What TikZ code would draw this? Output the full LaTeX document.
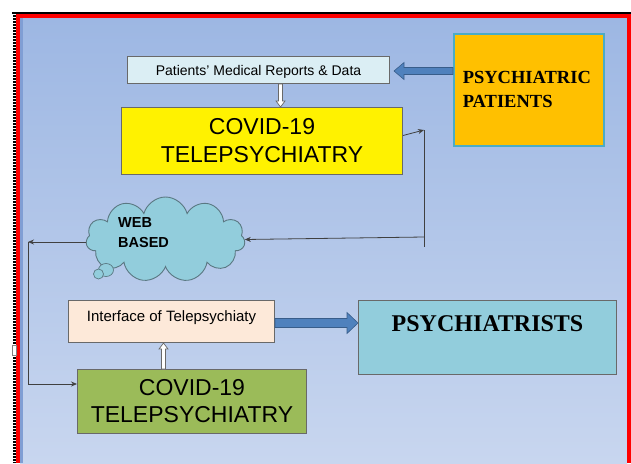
\documentclass[tikz,border=0pt]{standalone}
\usepackage{fontspec}
\setmainfont{Liberation Sans}
\newfontfamily\serifb{Liberation Serif}
\usetikzlibrary{shapes.symbols,arrows.meta,calc}

\definecolor{bgtop}{RGB}{157,183,227}
\definecolor{bgbot}{RGB}{200,214,239}
\definecolor{bgstrip}{RGB}{128,158,212}
\definecolor{boxline}{RGB}{105,105,105}
\definecolor{repfill}{RGB}{219,238,244}
\definecolor{orangefill}{RGB}{255,192,0}
\definecolor{orangeline}{RGB}{75,172,198}
\definecolor{cloudfill}{RGB}{146,205,220}
\definecolor{cloudline}{RGB}{90,120,130}
\definecolor{peach}{RGB}{253,233,217}
\definecolor{greenfill}{RGB}{155,187,89}
\definecolor{arrowblue}{RGB}{79,129,189}
\definecolor{arrowedge}{RGB}{56,93,138}
\definecolor{conn}{RGB}{64,64,64}
\definecolor{framered}{RGB}{255,0,0}

\begin{document}
\begin{tikzpicture}[x=1pt,y=-1pt,
  boxnode/.style={draw=boxline, line width=1pt, rectangle, anchor=north west, inner sep=0pt},
  link/.style={draw=conn, line width=0.8pt, -{Stealth[length=6pt,width=5pt]}},
  plain/.style={draw=conn, line width=0.8pt},
  bluearrow/.style={fill=arrowblue, draw=arrowedge, line width=0.6pt},
  whitearrow/.style={fill=white, draw=boxline, line width=0.7pt},
]
\useasboundingbox (0,0) rectangle (631,463);
\fill[white] (0,0) rectangle (631,463);
% background and frame
\shade[top color=bgtop, bottom color=bgbot] (20,17) rectangle (627,463);
\fill[bgstrip] (20,17.5) rectangle (23,463);
\fill[framered] (16,13.5) rectangle (631,17.5);
\fill[framered] (16,13.5) rectangle (20,463);
\fill[framered] (627,13.5) rectangle (631,463);
\fill[black] (12,12) rectangle (631,13.8);
\draw[black, line width=3pt, dash pattern=on 2pt off 1pt] (14,12) -- (14,463);
\draw[gray, fill=white, line width=0.5pt] (12.5,345) rectangle (16.5,355);

% nodes
\node[boxnode, fill=repfill, minimum width=262pt, minimum height=27pt,
      font=\fontsize{14}{16}\selectfont, text depth=0pt] (reports) at (127,56)
      {Patients’ Medical Reports \& Data};
\node[boxnode, fill=yellow, minimum width=281pt, minimum height=67pt, align=center,
      font=\fontsize{23}{28}\selectfont] (covidtop) at (121,107) {COVID-19\\TELEPSYCHIATRY};
\node[boxnode, draw=orangeline, line width=1.5pt, fill=orangefill, minimum width=150pt,
      minimum height=112pt, inner xsep=9pt, text width=132pt, align=left,
      font=\serifb\bfseries\fontsize{18.5}{24}\selectfont] (patients) at (453,33)
      {PSYCHIATRIC\\PATIENTS};
\node[cloud, cloud puffs=11, aspect=1.87, draw=cloudline, line width=0.9pt, fill=cloudfill,
      minimum width=159pt, minimum height=85pt, inner sep=0pt] (web) at (165.5,239.5) {};
\draw[draw=cloudline, fill=cloudfill, line width=0.7pt] (106,270) ellipse (7.5 and 6.5);
\draw[draw=cloudline, fill=cloudfill, line width=0.7pt] (98.5,274) circle (5);
\node[font=\bfseries\fontsize{14.5}{20}\selectfont, align=left, anchor=north west,
      inner sep=0pt] (webtxt) at (118,217.6) {WEB\\BASED};
\node[boxnode, fill=peach, minimum width=206pt, minimum height=42pt,
      font=\fontsize{15}{18}\selectfont, text height=11pt, text depth=11pt] (iface) at (68,300)
      {Interface of Telepsychiaty};
\node[boxnode, fill=cloudfill, minimum width=258pt, minimum height=74pt,
      font=\serifb\bfseries\fontsize{24}{28}\selectfont, text height=16.5pt, text depth=28.5pt]
      (doctors) at (358,300) {PSYCHIATRISTS};
\node[boxnode, fill=greenfill, minimum width=229pt, minimum height=64pt, align=center,
      font=\fontsize{23}{27}\selectfont] (covidbot) at (77,369) {COVID-19\\TELEPSYCHIATRY};

% block arrows
\draw[bluearrow] let \p1=(reports.east), \p2=(patients.west) in
  (\x2,\y1+2.5pt) -- (\x1+14pt,\y1+2.5pt) -- (\x1+14pt,\y1+7.5pt) -- (\x1+4pt,\y1-1pt)
  -- (\x1+14pt,\y1-9.5pt) -- (\x1+14pt,\y1-4.5pt) -- (\x2,\y1-4.5pt) -- cycle;
\draw[bluearrow] let \p1=(iface.east), \p2=(doctors.west) in
  (\x1,\y1+3pt) -- (\x2-11pt,\y1+3pt) -- (\x2-11pt,\y1+9pt) -- (\x2,\y1-1.5pt)
  -- (\x2-11pt,\y1-12pt) -- (\x2-11pt,\y1-6pt) -- (\x1,\y1-6pt) -- cycle;
\draw[whitearrow] let \p1=($(reports.south)+(22,0)$), \p2=(covidtop.north) in
  (\x1-2pt,\y1) -- (\x1-2pt,\y2+6pt) -- (\x1-4.5pt,\y2+6pt) -- (\x1,\y2)
  -- (\x1+4.5pt,\y2+6pt) -- (\x1+2pt,\y2+6pt) -- (\x1+2pt,\y1) -- cycle;
\draw[whitearrow] let \p1=($(covidbot.north)+(-28.5,0)$), \p2=(iface.south) in
  (\x1-2pt,\y1) -- (\x1-2pt,\y2-6pt) -- (\x1-4.5pt,\y2-6pt) -- (\x1,\y2)
  -- (\x1+4.5pt,\y2-6pt) -- (\x1+2pt,\y2-6pt) -- (\x1+2pt,\y1) -- cycle;

% thin connectors
\coordinate (rc1) at (424,130);
\coordinate (rc2) at (424,247);
\coordinate (rc3) at (424,237);
\coordinate (lc1) at (28,242);
\coordinate (lc2) at (28,384);
\draw[link] ($(covidtop.east)+(0,-5.5)$) -- (rc1);
\draw[plain] (rc1) -- (rc2);
\draw[link] (rc3) -- (web.east);
\draw[link] (web.west |- lc1) -- (lc1);
\draw[link] (lc1) -- (lc2) -- (covidbot.west |- lc2);
\end{tikzpicture}
\end{document}
